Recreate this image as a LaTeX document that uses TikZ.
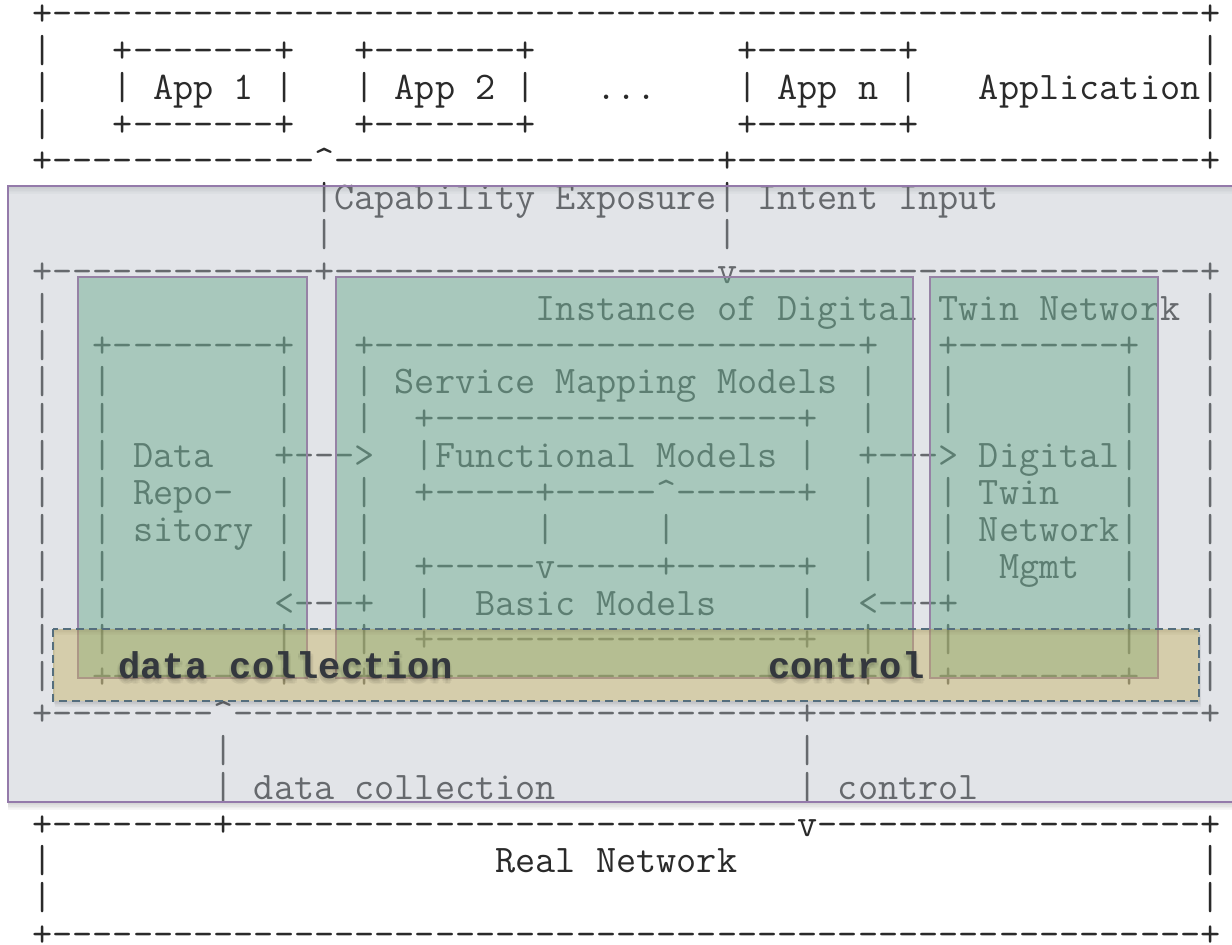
\documentclass[tikz,border=0pt]{standalone}
\usepackage{fontspec}
\newfontfamily\labelfont{Liberation Mono}
\usetikzlibrary{positioning}

\definecolor{ink}{RGB}{42,42,42}
\definecolor{haze}{RGB}{186,193,202}
\definecolor{hazeline}{RGB}{148,122,170}
\definecolor{sage}{RGB}{81,159,123}
\definecolor{sageline}{RGB}{150,130,165}
\definecolor{sand}{RGB}{199,178,97}
\definecolor{slate}{RGB}{85,110,125}
\definecolor{lbltext}{RGB}{52,56,62}

% monospace grid: one character cell is 10.07pt wide
\newlength\chw
\newlength\asciisz
\AtBeginDocument{%
  \settowidth\chw{\ttfamily\fontsize{19pt}{19pt}\selectfont M}%
  \setlength\asciisz{\dimexpr19pt*\number\dimexpr10.07pt\relax/\number\chw\relax}}
\newcommand\asciifont{\ttfamily\fontsize{\asciisz}{\asciisz}\selectfont}
\newcommand\dashes[1]{\foreach\k in {1,...,#1}{-}}
\newcommand\gap[1]{\foreach\k in {1,...,#1}{\ }}
\newcommand\up{\textasciicircum}

\tikzset{
  asciirow/.style={anchor=base west,inner sep=0pt,font=\asciifont,text=ink},
  boldtag/.style={anchor=base west,inner sep=0pt,
    font=\labelfont\bfseries\fontsize{18.56pt}{18.56pt}\selectfont,text=#1},
  boldtag/.default=lbltext,
  panel/.style={draw=sageline,line width=0.8pt,fill=sage,fill opacity=0.4},
}

\begin{document}
\begin{tikzpicture}[x=0.5pt,y=-0.5pt]
  \fill[white] (0,0) rectangle (1232,945);
  \useasboundingbox (0,0) rectangle (1232,945);

  % the ascii drawing, one node per line
  \node[asciirow] (r1) at (31.93,25.6) {+\dashes{57}+};
  \node[asciirow] (r2) at (31.93,62.44) {|\gap{3}+\dashes{7}+\gap{3}+\dashes{7}+\gap{10}+\dashes{7}+\gap{14}|};
  \node[asciirow] (r3) at (31.93,99.28) {|\gap{3}| App 1 |\gap{3}| App 2 |\gap{3}...\gap{4}| App n |\gap{3}Application|};
  \node[asciirow] (r4) at (31.93,136.12) {|\gap{3}+\dashes{7}+\gap{3}+\dashes{7}+\gap{10}+\dashes{7}+\gap{14}|};
  \node[asciirow] (r5) at (31.93,172.96) {+\dashes{13}\up\dashes{19}+\dashes{23}+};
  \node[asciirow] (r6) at (31.93,209.8) {\gap{14}|Capability Exposure| Intent Input};
  \node[asciirow] (r7) at (31.93,246.64) {\gap{14}|\gap{19}|};
  \node[asciirow] (r8) at (31.93,283.48) {+\dashes{13}+\dashes{19}v\dashes{23}+};
  \node[asciirow] (r9) at (31.93,320.32) {|\gap{24}Instance of Digital Twin Network |};
  \node[asciirow] (r10) at (31.93,357.16) {|\gap{2}+\dashes{8}+\gap{3}+\dashes{24}+\gap{3}+\dashes{8}+\gap{3}|};
  \node[asciirow] (r11) at (31.93,394.0) {|\gap{2}|\gap{8}|\gap{3}| Service Mapping Models |\gap{3}|\gap{8}|\gap{3}|};
  \node[asciirow] (r12) at (31.93,430.84) {|\gap{2}|\gap{8}|\gap{3}|\gap{2}+\dashes{18}+\gap{2}|\gap{3}|\gap{8}|\gap{3}|};
  \node[asciirow] (r13) at (31.93,467.68) {|\gap{2}| Data\gap{3}+--->\gap{2}|Functional Models |\gap{2}+---> Digital|\gap{3}|};
  \node[asciirow] (r14) at (31.93,504.52) {|\gap{2}| Repo-\gap{2}|\gap{3}|\gap{2}+\dashes{5}+\dashes{5}\up\dashes{6}+\gap{2}|\gap{3}| Twin\gap{3}|\gap{3}|};
  \node[asciirow] (r15) at (31.93,541.36) {|\gap{2}| sitory |\gap{3}|\gap{8}|\gap{5}|\gap{9}|\gap{3}| Network|\gap{3}|};
  \node[asciirow] (r16) at (31.93,578.2) {|\gap{2}|\gap{8}|\gap{3}|\gap{2}+\dashes{5}v\dashes{5}+\dashes{6}+\gap{2}|\gap{3}|\gap{2}Mgmt\gap{2}|\gap{3}|};
  \node[asciirow] (r17) at (31.93,615.04) {|\gap{2}|\gap{8}<---+\gap{2}|\gap{2}Basic Models\gap{4}|\gap{2}<---+\gap{8}|\gap{3}|};
  \node[asciirow] (r18) at (31.93,651.88) {|\gap{2}|\gap{8}|\gap{3}|\gap{2}+\dashes{18}+\gap{2}|\gap{3}|\gap{8}|\gap{3}|};
  \node[asciirow] (r19) at (31.93,688.72) {|\gap{2}+\dashes{8}+\gap{3}+\dashes{24}+\gap{3}+\dashes{8}+\gap{3}|};
  \node[asciirow] (r20) at (31.93,725.56) {+\dashes{8}\up\dashes{28}+\dashes{19}+};
  \node[asciirow] (r21) at (31.93,762.4) {\gap{9}|\gap{28}|};
  \node[asciirow] (r22) at (31.93,799.24) {\gap{9}| data collection\gap{12}| control};
  \node[asciirow] (r23) at (31.93,836.08) {+\dashes{8}+\dashes{28}v\dashes{19}+};
  \node[asciirow] (r24) at (31.93,872.92) {|\gap{22}Real Network\gap{23}|};
  \node[asciirow] (r25) at (31.93,909.76) {|\gap{57}|};
  \node[asciirow] (r26) at (31.93,946.6) {+\dashes{57}+};

  % digital twin layer
  \foreach \s in {1,...,5}
    \fill[black,opacity=0.035,even odd rule] (8,186+\s*1.6) rectangle (1250,802+\s*1.6) (8,186) rectangle (1250,802);
  \draw[hazeline,line width=1pt,fill=haze,fill opacity=0.42] (8,186) rectangle (1250,802);

  % repository, models, management
  \draw[panel] (78,277) rectangle (307,678);
  \draw[panel] (336,277) rectangle (913,678);
  \draw[panel] (930,277) rectangle (1158,678);

  % interface strip
  \foreach \s in {1,...,4}
    \fill[black,opacity=0.04,even odd rule] (53+\s*0.5,629+\s*1.5) rectangle (1199+\s*0.5,701+\s*1.5) (53,629) rectangle (1199,701);
  \draw[slate,line width=1pt,dash pattern=on 4pt off 2.5pt,fill=sand,fill opacity=0.45] (53,629) rectangle (1199,701);

  % soft shade under the strip labels
  \foreach \a [count=\i] in {0,45,...,315} {
    \node[boldtag=black,opacity=0.035] (dcs\i) at ([shift={(\a:2.5)}] 118,682) {data collection};
    \node[boldtag=black,opacity=0.035] (cts\i) at ([shift={(\a:2.5)}] 768,682) {control};
  }
  \node[boldtag] (dc) at (118,679) {data collection};
  \node[boldtag] (ct) at (768,679) {control};
\end{tikzpicture}
\end{document}
